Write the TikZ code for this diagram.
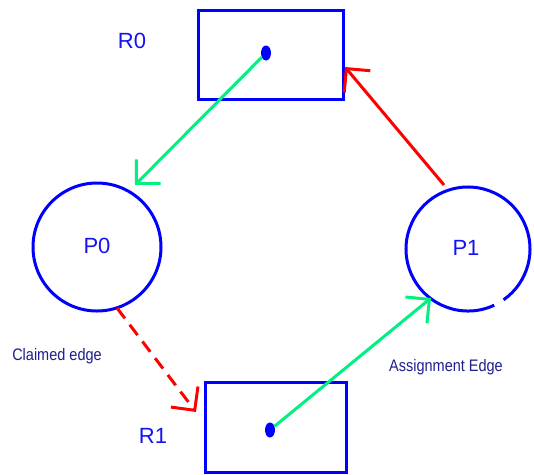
\documentclass[tikz,border=0pt]{standalone}
\usepackage{fontspec}
\setmainfont{Liberation Sans}
\usetikzlibrary{arrows.meta,shapes.geometric}
\definecolor{sgreen}{RGB}{0,240,130}
\definecolor{navytext}{RGB}{30,30,140}
\definecolor{lblue}{RGB}{20,20,240}
\begin{document}
\begin{tikzpicture}[x=1pt,y=-1pt,
  resbox/.style={draw=blue,line width=3pt,inner sep=0pt},
  proc/.style={circle,draw=blue,line width=3pt,inner sep=0pt,minimum size=#1},
  dotn/.style={ellipse,fill=blue,inner sep=0pt,minimum width=10pt,minimum height=15pt},
  biglbl/.style={text=lblue,font=\fontsize{22}{24}\selectfont},
  smalllbl/.style={text=navytext,font=\fontsize{14.5}{17}\selectfont,yscale=1.15},
  vtip/.style={-{Straight Barb[length=17pt,width=34pt]}},
  garrow/.style={vtip,draw=sgreen,line width=3pt},
  rarrow/.style={vtip,draw=red,line width=3pt}]
\useasboundingbox (0,0) rectangle (534,474);
% resources
\node[resbox,minimum width=145pt,minimum height=89pt] (R0) at (270.5,54.5) {};
\node[resbox,minimum width=141pt,minimum height=90pt] (R1) at (275.5,427) {};
\node[dotn] (d0) at (266,53) {};
\node[dotn] (d1) at (270,430) {};
% processes
\node[proc=128pt] (P0) at (97,247) {};
\node[circle,minimum size=124pt,inner sep=0pt] (P1) at (468,249) {};
\draw[blue,line width=3pt] ([shift={(65:62)}]P1.center) arc[start angle=65,end angle=415,radius=62];
% labels
\node[biglbl] (lR0) at (132,41) {R0};
\node[biglbl] (lP0) at (97,246) {P0};
\node[biglbl] (lP1) at (466,248) {P1};
\node[biglbl] (lR1) at (153,436) {R1};
\node[smalllbl] (lclaim) at (57,356) {Claimed edge};
\node[smalllbl] (lassign) at (446,367) {Assignment Edge};
% connector ends
\coordinate (a0) at (135,185);
\coordinate (p1top) at (444,185);
\coordinate (a1) at (345,67);
\coordinate (c0) at (117,308);
\coordinate (a2) at (196,412);
\coordinate (a3) at (431,298);
% connectors
\draw[garrow] (d0) -- (a0);
\draw[rarrow] (p1top) -- (a1);
\draw[rarrow,dash pattern=on 13pt off 8pt] (c0) -- (a2);
\draw[garrow] (d1) -- (a3);
\end{tikzpicture}
\end{document}
